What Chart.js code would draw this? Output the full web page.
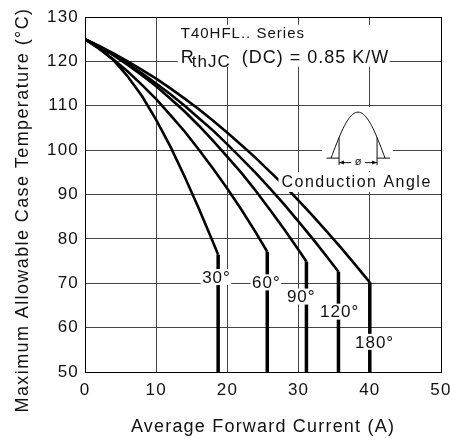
<!DOCTYPE html>
<html>
<head>
<meta charset="utf-8">
<script src="https://cdn.jsdelivr.net/npm/chart.js@4.4.1/dist/chart.umd.min.js"></script>
<style>
  html, body { margin: 0; padding: 0; background: #fff; }
  #wrap { width: 450px; height: 439px; }
</style>
</head>
<body>
<div id="wrap"><canvas id="chart" width="450" height="439"></canvas></div>
<script>
// Case temperature vs average current, one curve per conduction angle
const angleLabels = ['30°', '60°', '90°', '120°', '180°'];

const current30 = [0, 2, 4, 6, 8, 10, 12, 14, 16, 18, 18.7, 18.7];
const temp30 = [125, 123, 120.3, 116.6, 112.2, 106.8, 100.8, 94, 86.8, 79.2, 76.4, 50];

const current60 = [0, 2, 4, 6, 8, 10, 12, 14, 16, 18, 20, 22, 24, 25.6, 25.6];
const temp60 = [125, 122.8, 120.4, 117.7, 114.7, 111.5, 107.9, 104.2, 100.1, 95.8, 91.3, 86.5, 81.4, 77.1, 50];

const current90 = [0, 2, 4, 6, 8, 10, 12, 14, 16, 18, 20, 22, 24, 26, 28, 30, 31.1, 31.1];
const temp90 = [125, 123.3, 121.4, 119.2, 116.9, 114.4, 111.6, 108.7, 105.5, 102.1, 98.5, 94.8, 90.8, 86.5, 82.1, 77.5, 74.9, 50];

const current120 = [0, 2, 4, 6, 8, 10, 12, 14, 16, 18, 20, 22, 24, 26, 28, 30, 32, 34, 35.6, 35.6];
const temp120 = [125, 123.3, 121.4, 119.5, 117.3, 115, 112.6, 110, 107.2, 104.4, 101.3, 98.1, 94.8, 91.3, 87.7, 83.9, 80, 75.9, 72.6, 50];

const current180 = [0, 2, 4, 6, 8, 10, 12, 14, 16, 18, 20, 22, 24, 26, 28, 30, 32, 34, 36, 38, 40, 40];
const temp180 = [125, 123.5, 121.8, 120, 118.1, 116.1, 113.9, 111.6, 109.2, 106.6, 103.9, 101.1, 98.2, 95.1, 92, 88.6, 85.2, 81.6, 77.9, 74.1, 70.2, 50];

const xTicks = [0, 10, 20, 30, 40, 50];
const yTicks = [50, 60, 70, 80, 90, 100, 110, 120, 130];

const currents = [current30, current60, current90, current120, current180];
const temps = [temp30, temp60, temp90, temp120, temp180];

const FONT = '"Liberation Sans", Arial, sans-serif';
Chart.defaults.font.family = FONT;

// where the angle labels sit (data units)
const labelAt = [[18.4, 71.4], [25.4, 70.2], [30.3, 67], [35.7, 63.6], [40.6, 56.8]];

const notes = {
  id: 'notes',
  beforeUpdate(chart) { chart.ctx.letterSpacing = '1.2px'; },
  beforeDraw(chart) { chart.ctx.letterSpacing = '1.2px'; },
  afterDatasetsDraw(chart) {
    const { ctx, scales: { x, y } } = chart;
    ctx.save();
    ctx.fillStyle = '#111';

    // angle labels, white box behind so lines break around them
    ctx.font = '17px ' + FONT;
    ctx.letterSpacing = '1px';
    ctx.textAlign = 'center';
    ctx.textBaseline = 'middle';
    angleLabels.forEach((txt, i) => {
      const px = x.getPixelForValue(labelAt[i][0]);
      const py = y.getPixelForValue(labelAt[i][1]);
      const w = ctx.measureText(txt).width;
      ctx.fillStyle = '#fff';
      ctx.fillRect(px - w / 2 - 1, py - 8, w + 2, 16);
      ctx.fillStyle = '#111';
      ctx.fillText(txt, px + 0.5, py + 1);
    });

    // series name block
    const tx = x.getPixelForValue(13.45);
    const ty = y.getPixelForValue(125.2);
    ctx.fillStyle = '#fff';
    ctx.fillRect(tx - 3, ty - 13.5, 212, 42);
    ctx.fillStyle = '#111';
    ctx.textAlign = 'left';
    ctx.textBaseline = 'alphabetic';
    ctx.font = '15px ' + FONT;
    ctx.fillText('T40HFL.. Series', tx, ty);
    ctx.font = '18px ' + FONT;
    ctx.fillText('R', tx, ty + 25);
    ctx.font = '17px ' + FONT;
    ctx.fillText('thJC', tx + 11, ty + 28.5);
    ctx.font = '18px ' + FONT;
    ctx.fillText('(DC) = 0.85 K/W', tx + 61, ty + 25);

    // conduction angle sketch
    const cx = x.getPixelForValue(38.35);
    const cy = y.getPixelForValue(98.2);
    ctx.fillStyle = '#fff';
    ctx.fillRect(cx - 36, cy - 51, 71, 64);
    ctx.strokeStyle = '#111';
    ctx.lineWidth = 1;
    ctx.beginPath();
    ctx.moveTo(cx - 31.5, cy); ctx.lineTo(cx - 19, cy);
    ctx.moveTo(cx + 19, cy); ctx.lineTo(cx + 32, cy);
    for (let k = 0; k <= 40; k++) {
      const u = k / 40;
      const hx = cx - 27 + 54 * u;
      const hy = cy - 46 * Math.sin(Math.PI * u);
      if (k === 0) ctx.moveTo(hx, hy); else ctx.lineTo(hx, hy);
    }
    const cut = 46 * Math.sin(Math.PI * 8 / 54);
    ctx.moveTo(cx - 19, cy - cut); ctx.lineTo(cx - 19, cy + 7);
    ctx.moveTo(cx + 19, cy - cut); ctx.lineTo(cx + 19, cy + 7);
    ctx.moveTo(cx - 19, cy + 4.5); ctx.lineTo(cx - 7, cy + 4.5);
    ctx.moveTo(cx + 7, cy + 4.5); ctx.lineTo(cx + 19, cy + 4.5);
    ctx.stroke();
    ctx.fillStyle = '#111';
    ctx.beginPath();
    ctx.moveTo(cx - 19, cy + 4.5); ctx.lineTo(cx - 14, cy + 2.5); ctx.lineTo(cx - 14, cy + 6.5);
    ctx.moveTo(cx + 19, cy + 4.5); ctx.lineTo(cx + 14, cy + 2.5); ctx.lineTo(cx + 14, cy + 6.5);
    ctx.fill();
    ctx.font = '11px ' + FONT;
    ctx.letterSpacing = '0px';
    ctx.textAlign = 'center';
    ctx.textBaseline = 'middle';
    ctx.fillText('ø', cx, cy + 4);

    // caption under the sketch
    const gx = x.getPixelForValue(27.6);
    const gy = y.getPixelForValue(91.7);
    ctx.font = '16px ' + FONT;
    ctx.letterSpacing = '1.5px';
    ctx.textAlign = 'left';
    ctx.textBaseline = 'alphabetic';
    ctx.fillStyle = '#fff';
    ctx.fillRect(gx - 3, gy - 15, 154, 20);
    ctx.fillStyle = '#111';
    ctx.fillText('Conduction Angle', gx, gy);

    // y axis title, drawn by hand because it is not centred on the axis
    ctx.font = '18px ' + FONT;
    ctx.letterSpacing = '1.4px';
    ctx.textAlign = 'center';
    ctx.translate(28, 210);
    ctx.rotate(-Math.PI / 2);
    ctx.fillText('Maximum Allowable Case Temperature (°C)', 0, 0);
    ctx.restore();
  }
};

const datasets = angleLabels.map((name, i) => ({
  label: name,
  data: currents[i].map((c, j) => ({ x: c, y: temps[i][j] })),
  borderColor: '#000',
  borderWidth: 2.6,
  pointRadius: 0,
  tension: 0,
  fill: false,
  segment: {
    borderWidth: ctx => (ctx.p0.parsed.x === ctx.p1.parsed.x ? 3.5 : 2.6)
  }
}));

const edgeColor = (min, max) => ctx =>
  (ctx.tick && (ctx.tick.value === min || ctx.tick.value === max)) ? '#000' : '#444';

new Chart(document.getElementById('chart'), {
  type: 'line',
  data: { datasets },
  plugins: [notes],
  options: {
    responsive: false,
    animation: false,
    devicePixelRatio: 1,
    layout: { padding: { top: 17, right: 9, left: 0, bottom: 0 } },
    plugins: { legend: { display: false }, tooltip: { enabled: false } },
    scales: {
      x: {
        type: 'linear',
        min: xTicks[0],
        max: xTicks[xTicks.length - 1],
        ticks: { stepSize: xTicks[1] - xTicks[0], color: '#111', font: { size: 17 }, padding: 8 },
        grid: { color: edgeColor(xTicks[0], xTicks[xTicks.length - 1]), lineWidth: 1, drawTicks: false },
        border: { color: '#000', width: 1 },
        title: {
          display: true,
          text: 'Average Forward Current (A)',
          color: '#111',
          font: { size: 18 },
          padding: { top: 0, bottom: 1 }
        },
        afterFit(scale) {
          scale.height = 67;
          scale.paddingLeft = 0;
          scale.paddingRight = 0;
        }
      },
      y: {
        type: 'linear',
        min: yTicks[0],
        max: yTicks[yTicks.length - 1],
        ticks: { stepSize: yTicks[1] - yTicks[0], color: '#111', font: { size: 17 }, padding: 6 },
        grid: { color: edgeColor(yTicks[0], yTicks[yTicks.length - 1]), lineWidth: 1, drawTicks: false },
        border: { color: '#000', width: 1 },
        afterFit(scale) {
          scale.width = 85;
          scale.paddingTop = 0;
          scale.paddingBottom = 0;
        }
      }
    }
  }
});
</script>
</body>
</html>
